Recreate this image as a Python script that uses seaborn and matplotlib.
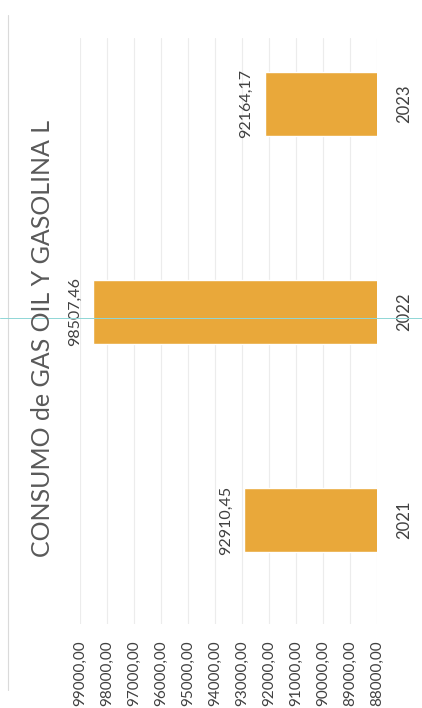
import pandas as pd
import seaborn as sns
import matplotlib.pyplot as plt
from matplotlib.lines import Line2D

# data
years = ["2021", "2022", "2023"]
consumo = [92910.45, 98507.46, 92164.17]
ticks = [88000, 89000, 90000, 91000, 92000, 93000, 94000, 95000, 96000, 97000, 98000, 99000]
title = "CONSUMO de GAS OIL Y GASOLINA L"

df = pd.DataFrame({"anio": years, "consumo": consumo})

sns.set_theme(style="white")
plt.rcParams["font.family"] = ["Lato", "DejaVu Sans"]

bar_color = "#E9A83A"
text_color = "#404040"

fig = plt.figure(figsize=(4.22, 7.08), dpi=100)
# chart is scanned sideways, so draw horizontal bars with the value axis reversed
ax = fig.add_axes([80 / 422, 84 / 708, 297 / 422, 586 / 708])

sns.barplot(data=df, y="anio", x="consumo", order=years[::-1], color=bar_color,
            width=0.31, saturation=1, orient="h", ax=ax)

ax.set_xlim(ticks[-1], ticks[0])
ax.set_ylim(2.5, -0.317)
ax.set_xticks(ticks)
ax.set_xticklabels([f"{t:.2f}".replace(".", ",") for t in ticks],
                   rotation=90, fontsize=11, color=text_color)
ax.yaxis.tick_right()
ax.set_yticks(range(len(years)))
ax.set_yticklabels(years[::-1], rotation=90, va="center", fontsize=12, color=text_color)
ax.tick_params(axis="x", length=0, pad=12)
ax.tick_params(axis="y", length=0, pad=14)
ax.set_xlabel("")
ax.set_ylabel("")
ax.grid(axis="x", color="#ececec", lw=0.8)
ax.set_axisbelow(True)
sns.despine(ax=ax, left=True, bottom=True, right=True, top=True)

# data labels next to the end of each bar
for p in ax.patches:
    v = p.get_width()
    ax.annotate(f"{v:.2f}".replace(".", ","), (v, p.get_y() + p.get_height() / 2),
                xytext=(-8, 0), textcoords="offset points", rotation=90,
                ha="right", va="center", fontsize=11.5, color=text_color,
                annotation_clip=False)

fig.text(43 / 422, 1 - 338 / 708, title, rotation=90, ha="center", va="center",
         fontsize=18, color="#595959")

# chart border and the scanner's cyan streak
fig.add_artist(Line2D([8 / 422, 8 / 422], [1 - 690 / 708, 1 - 15 / 708],
                      transform=fig.transFigure, color="#dadada", lw=0.8))
fig.add_artist(Line2D([0, 1], [1 - 318 / 708, 1 - 318 / 708],
                      transform=fig.transFigure, color="#8fd6d6", lw=0.7))

fig.savefig("out.png", dpi=100)
